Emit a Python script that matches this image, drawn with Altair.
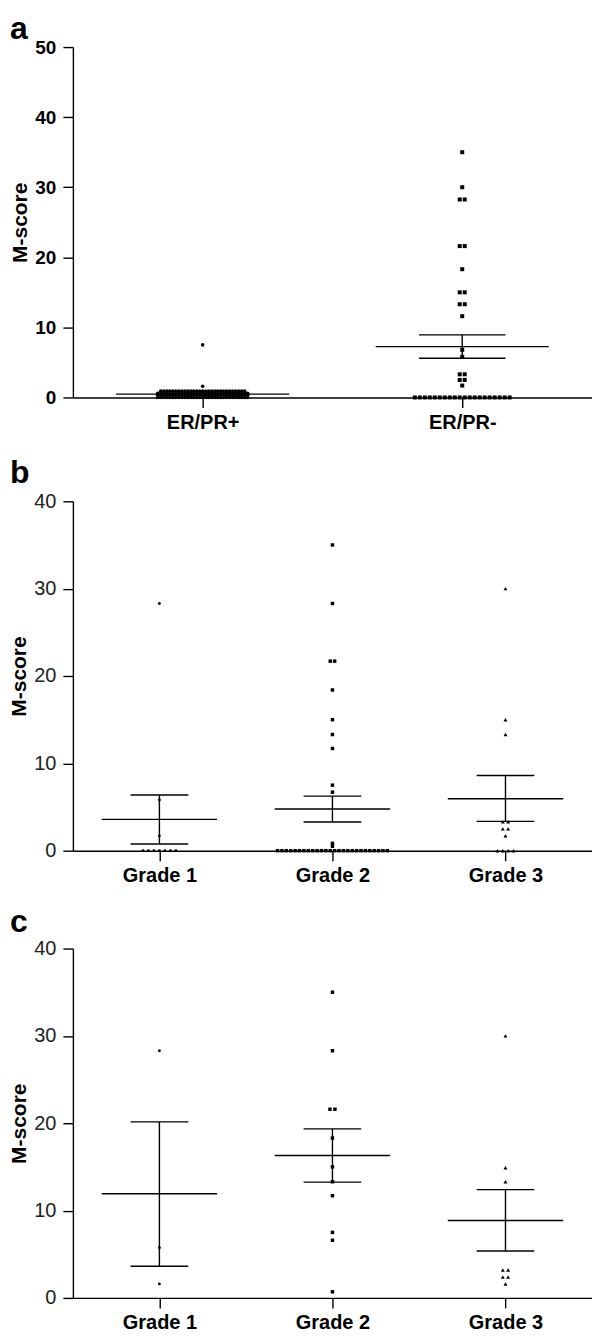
import json
import altair as alt
import pandas as pd

FONT = "Liberation Sans"

# ---------------- data ----------------
# Panel a
a_groups = ["ER/PR+", "ER/PR-"]
a_pos_values = [7.5, 1.6, 0.9, 0.6, 0.3, 0.0]
a_pos_counts = [1, 1, 29, 31, 31, 31]
a_neg_values = [35.0, 30.0, 28.25, 21.6, 18.3, 15.0, 13.3, 11.6, 6.8, 5.8, 3.3, 2.5, 1.7, 0.0]
a_neg_counts = [1, 1, 2, 2, 1, 2, 2, 1, 1, 1, 2, 2, 1, 20]
a_mean = [0.47, 7.26]
a_upper = [0.55, 8.93]
a_lower = [0.39, 5.60]

# Panel b
grades = ["Grade 1", "Grade 2", "Grade 3"]
b_g1_values = [28.3, 5.8, 1.7, 0.0]
b_g1_counts = [1, 1, 1, 7]
b_g2_values = [35.0, 28.3, 21.7, 18.4, 15.0, 13.3, 11.7, 7.5, 6.7, 0.84, 0.5, 0.0]
b_g2_counts = [1, 1, 2, 1, 1, 1, 1, 1, 1, 1, 1, 26]
b_g3_values = [30.0, 15.0, 13.3, 3.3, 2.5, 1.7, 0.0]
b_g3_counts = [1, 1, 1, 2, 2, 1, 4]
b_mean = [3.59, 4.77, 5.94]
b_upper = [6.37, 6.25, 8.60]
b_lower = [0.76, 3.28, 3.36]

# Panel c
c_g1_values = [28.3, 5.75, 1.6]
c_g1_counts = [1, 1, 1]
c_g2_values = [35.0, 28.3, 21.6, 18.3, 15.0, 13.3, 11.7, 7.5, 6.6, 0.7]
c_g2_counts = [1, 1, 2, 1, 1, 1, 1, 1, 1, 1]
c_g3_values = [30.0, 14.9, 13.3, 3.2, 2.4, 1.6]
c_g3_counts = [1, 1, 1, 2, 2, 1]
c_mean = [11.92, 16.30, 8.87]
c_upper = [20.15, 19.35, 12.40]
c_lower = [3.62, 13.26, 5.37]


# ---------------- helpers ----------------
def points_frame(groups, width, shapes, sizes, spacings):
    """Scatter-dot table; equal values are laid side by side (column scatter)."""
    n = len(groups)
    band = width / n
    rows = []
    for gi, (vals, cnts) in enumerate(groups):
        step = spacings[gi] / band
        for v, c in zip(vals, cnts):
            for k in range(c):
                rows.append({"x": gi + (k - (c - 1) / 2) * step, "y": v,
                             "shape": shapes[gi], "size": sizes[gi]})
    return pd.DataFrame(rows)


def summary_frame(mean, upper, lower):
    rows = []
    for i, (m, u, l) in enumerate(zip(mean, upper, lower)):
        rows.append({"c": i, "m1": i - 1 / 3, "m2": i + 1 / 3,
                     "s1": i - 1 / 6, "s2": i + 1 / 6,
                     "mean": m, "upper": u, "lower": l})
    return pd.DataFrame(rows)


def panel(letter, names, pts, summ, width, height, ymax, bold_ticks, title_offset):
    n = len(names)
    xscale = alt.Scale(domain=[-0.5, n - 0.5], nice=False, zero=False)
    yscale = alt.Scale(domain=[0, ymax], nice=False)
    label_expr = json.dumps(names) + "[datum.value]"
    xaxis = alt.Axis(values=list(range(n)), labelExpr=label_expr, grid=False, title=None,
                     tickSize=10, labelPadding=5, labelFontSize=20, labelFontWeight="bold",
                     labelFont=FONT, labelColor="black", domainColor="black",
                     tickColor="black", domainWidth=1.4, tickWidth=1.4)
    yaxis = alt.Axis(values=list(range(0, ymax + 1, 10)), grid=False, title="M-score",
                     titleFont=FONT, titleFontSize=21, titleFontWeight="bold",
                     titleColor="black", titlePadding=4,
                     tickSize=10, labelPadding=7, labelFont=FONT,
                     labelFontSize=19 if bold_ticks else 20,
                     labelFontWeight="bold" if bold_ticks else "normal",
                     labelColor="black" if bold_ticks else "#222222",
                     domainColor="black", tickColor="black", domainWidth=1.4, tickWidth=1.4)

    dots = alt.Chart(pts).mark_point(filled=True, color="black", opacity=1, strokeWidth=0).encode(
        x=alt.X("x:Q", scale=xscale, axis=xaxis),
        y=alt.Y("y:Q", scale=yscale, axis=yaxis),
        shape=alt.Shape("shape:N", scale=None),
        size=alt.Size("size:Q", scale=None),
    )
    base_s = alt.Chart(summ)
    rule = dict(color="black", strokeWidth=1.4)
    mean_rule = base_s.mark_rule(**rule).encode(x="m1:Q", x2="m2:Q", y="mean:Q")
    up_rule = base_s.mark_rule(**rule).encode(x="s1:Q", x2="s2:Q", y="upper:Q")
    lo_rule = base_s.mark_rule(**rule).encode(x="s1:Q", x2="s2:Q", y="lower:Q")
    v_rule = base_s.mark_rule(**rule).encode(x="c:Q", y="lower:Q", y2="upper:Q")

    return alt.layer(dots, mean_rule, up_rule, lo_rule, v_rule).properties(
        width=width, height=height,
        title=alt.TitleParams(letter, anchor="start", frame="group", dx=-63,
                              font=FONT, fontSize=32, fontWeight="bold", color="black",
                              offset=title_offset),
    )


W = 520

pts_a = points_frame([(a_pos_values, a_pos_counts), (a_neg_values, a_neg_counts)], W,
                     ["circle", "square"], [13, 16], [3.0, 5.0])
pts_b = points_frame([(b_g1_values, b_g1_counts), (b_g2_values, b_g2_counts),
                      (b_g3_values, b_g3_counts)], W,
                     ["circle", "square", "triangle-up"], [8, 12, 16], [5.5, 4.4, 5.3])
pts_c = points_frame([(c_g1_values, c_g1_counts), (c_g2_values, c_g2_counts),
                      (c_g3_values, c_g3_counts)], W,
                     ["circle", "square", "triangle-up"], [8, 12, 16], [5.5, 5.0, 5.3])

pa = panel("a", a_groups, pts_a, summary_frame(a_mean, a_upper, a_lower), W, 351, 50, True, -8)
pb = panel("b", grades, pts_b, summary_frame(b_mean, b_upper, b_lower), W, 350, 40, False, 1)
pc = panel("c", grades, pts_c, summary_frame(c_mean, c_upper, c_lower), W, 350, 40, False, 0)

chart = alt.vconcat(
    pa,
    alt.vconcat(pb, pc, spacing=20),
    spacing=25,
).properties(padding={"top": 4, "left": 0, "right": 0, "bottom": 0}).configure_view(stroke=None)

chart.save("out.html", embed_options={"renderer": "svg", "actions": False})
